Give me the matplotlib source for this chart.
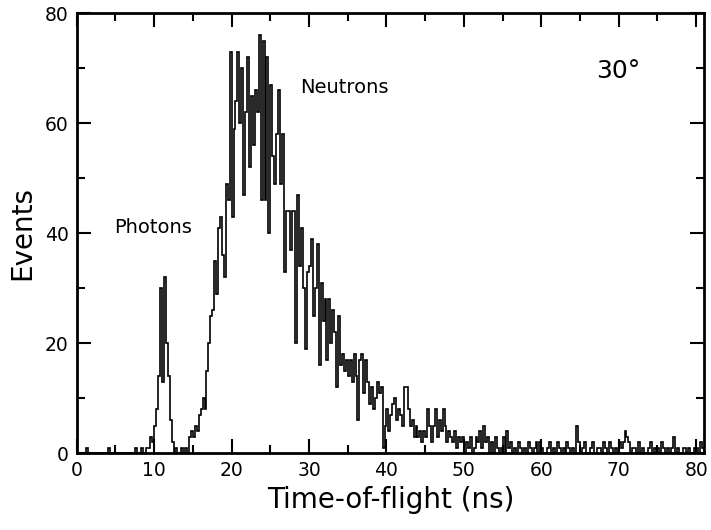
import numpy as np
import matplotlib
matplotlib.use("Agg")
import matplotlib.pyplot as plt
from matplotlib.ticker import MultipleLocator

# --- DATA (0.25 ns bins from 0 to 81 ns) ---
bin_width = 0.25
counts = [
    # 0 - 5 ns
    0, 0, 0, 0, 0, 1, 0, 0, 0, 0, 0, 0, 0, 0, 0, 0, 1, 0, 0, 0,
    # 5 - 10 ns
    0, 0, 0, 0, 0, 0, 0, 0, 0, 0, 1, 0, 0, 1, 0, 0, 1, 1, 3, 2,
    # 10 - 15 ns (photon peak)
    5, 8, 14, 30, 13, 32, 20, 14, 6, 2, 0, 1, 0, 0, 1, 0, 1, 0, 3, 4,
    # 15 - 20 ns
    3, 5, 4, 7, 8, 10, 8, 15, 20, 25, 26, 35, 29, 41, 43, 36, 32, 49, 46, 73,
    # 20 - 25 ns
    43, 59, 64, 73, 60, 70, 47, 62, 72, 52, 65, 56, 66, 62, 76, 46, 75, 46, 72, 40,
    # 25 - 30 ns
    67, 54, 49, 58, 66, 49, 58, 33, 44, 44, 37, 44, 44, 20, 47, 34, 41, 30, 19, 33,
    # 30 - 35 ns
    34, 39, 25, 30, 38, 16, 31, 24, 28, 17, 28, 20, 26, 22, 12, 25, 16, 18, 15, 17,
    # 35 - 40 ns
    14, 17, 13, 18, 14, 6, 17, 18, 11, 17, 13, 9, 12, 8, 10, 13, 11, 12, 1, 5,
    # 40 - 45 ns
    8, 4, 7, 9, 10, 6, 8, 7, 5, 12, 12, 8, 5, 6, 3, 5, 3, 4, 2, 4,
    # 45 - 50 ns
    3, 8, 5, 2, 5, 8, 3, 6, 4, 8, 5, 2, 4, 3, 2, 4, 1, 3, 2, 3,
    # 50 - 55 ns
    0, 2, 1, 3, 0, 1, 3, 2, 4, 1, 5, 2, 3, 0, 2, 0, 3, 1, 0, 1,
    # 55 - 60 ns
    3, 0, 4, 1, 2, 0, 1, 0, 2, 1, 0, 1, 0, 2, 1, 0, 1, 2, 0, 2,
    # 60 - 65 ns
    1, 0, 0, 1, 2, 0, 1, 0, 2, 1, 0, 1, 0, 2, 1, 0, 1, 0, 5, 2,
    # 65 - 70 ns
    0, 1, 2, 0, 0, 1, 2, 0, 0, 1, 1, 0, 2, 1, 0, 2, 1, 0, 1, 0,
    # 70 - 75 ns
    2, 1, 2, 4, 3, 2, 0, 1, 1, 0, 2, 0, 1, 0, 0, 1, 2, 0, 1, 0,
    # 75 - 80 ns
    1, 0, 2, 1, 0, 1, 0, 1, 3, 0, 1, 0, 0, 1, 1, 0, 1, 0, 0, 1,
    # 80 - 81 ns
    1, 0, 2, 1,
]
edges = np.arange(len(counts) + 1) * bin_width

labels = {"Photons": (9.9, 41), "Neutrons": (34.5, 66.5)}
angle_label = "30°"

# --- PLOT ---
plt.rcParams['font.family'] = ['DejaVu Sans']
fig = plt.figure(figsize=(7.11, 5.30), dpi=100)
ax = fig.add_axes([0.108, 0.145, 0.882, 0.830])

ax.stairs(counts, edges, color='black', linewidth=1.2)

for name, (tx, ty) in labels.items():
    ax.text(tx, ty, name, fontsize=14, ha='center', va='center')
ax.text(70, 69.5, angle_label, fontsize=18, ha='center', va='center')

ax.set_xlim(0, 81)
ax.set_ylim(0, 80)
ax.xaxis.set_major_locator(MultipleLocator(10))
ax.xaxis.set_minor_locator(MultipleLocator(5))
ax.yaxis.set_major_locator(MultipleLocator(20))
ax.yaxis.set_minor_locator(MultipleLocator(10))
ax.tick_params(which='both', direction='in', top=True, right=True, width=1.5)
ax.tick_params(which='major', length=10, labelsize=13.5, pad=6)
ax.tick_params(which='minor', length=6)
for s in ax.spines.values():
    s.set_linewidth(2)

ax.set_xlabel("Time-of-flight (ns)", fontsize=20, labelpad=4)
ax.set_ylabel("Events", fontsize=20, labelpad=6)

fig.savefig("out.png", dpi=100)
